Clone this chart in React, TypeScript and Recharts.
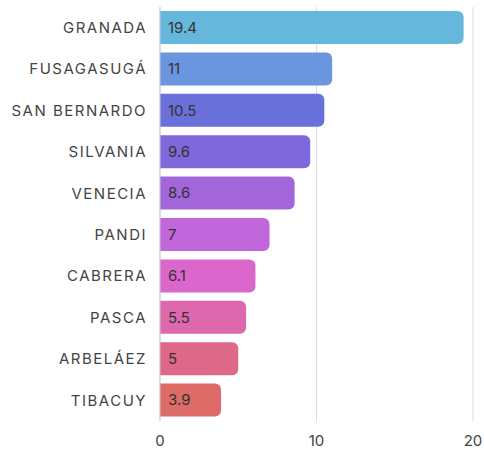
import { BarChart, Bar, XAxis, YAxis, CartesianGrid, Cell, LabelList } from 'recharts'

// municipios y valores
const municipios = [
  'GRANADA',
  'FUSAGASUGÁ',
  'SAN BERNARDO',
  'SILVANIA',
  'VENECIA',
  'PANDI',
  'CABRERA',
  'PASCA',
  'ARBELÁEZ',
  'TIBACUY'
]
const valores = [19.4, 11, 10.5, 9.6, 8.6, 7, 6.1, 5.5, 5, 3.9]
const xTicks = [0, 10, 20]

const colores = [
  '#65b7dc',
  '#6996de',
  '#6970da',
  '#7f68dc',
  '#a266da',
  '#c266dc',
  '#dc67cc',
  '#dd68ad',
  '#dd6888',
  '#dd6b68'
]

const data = municipios.map((name, i) => ({ name, value: valores[i] }))

export default function App() {
  return (
    <div style={{ fontFamily: 'Inter, sans-serif' }}>
      <style>{`body{margin:0}`}</style>
      <BarChart
        width={484}
        height={452}
        data={data}
        layout="vertical"
        margin={{ top: 7, right: 11, left: 0, bottom: 0 }}
      >
        <CartesianGrid horizontal={false} stroke="#dddddd" />
        <XAxis
          type="number"
          domain={[0, 20]}
          ticks={xTicks}
          axisLine={false}
          tickLine={false}
          height={31}
          tick={{ fill: '#444', fontSize: 15 }}
          tickMargin={8}
        />
        <YAxis
          type="category"
          dataKey="name"
          width={160}
          axisLine={{ stroke: '#cccccc' }}
          tickLine={false}
          tickMargin={7}
          tick={{ fill: '#444', fontSize: 15, letterSpacing: 1.5 }}
        />
        <Bar dataKey="value" barSize={33} radius={[0, 6, 6, 0]} isAnimationActive={false}>
          {data.map((d, i) => (
            <Cell key={d.name} fill={colores[i]} />
          ))}
          <LabelList dataKey="value" position="insideLeft" offset={8} fill="#333" fontSize={15} />
        </Bar>
      </BarChart>
    </div>
  )
}
